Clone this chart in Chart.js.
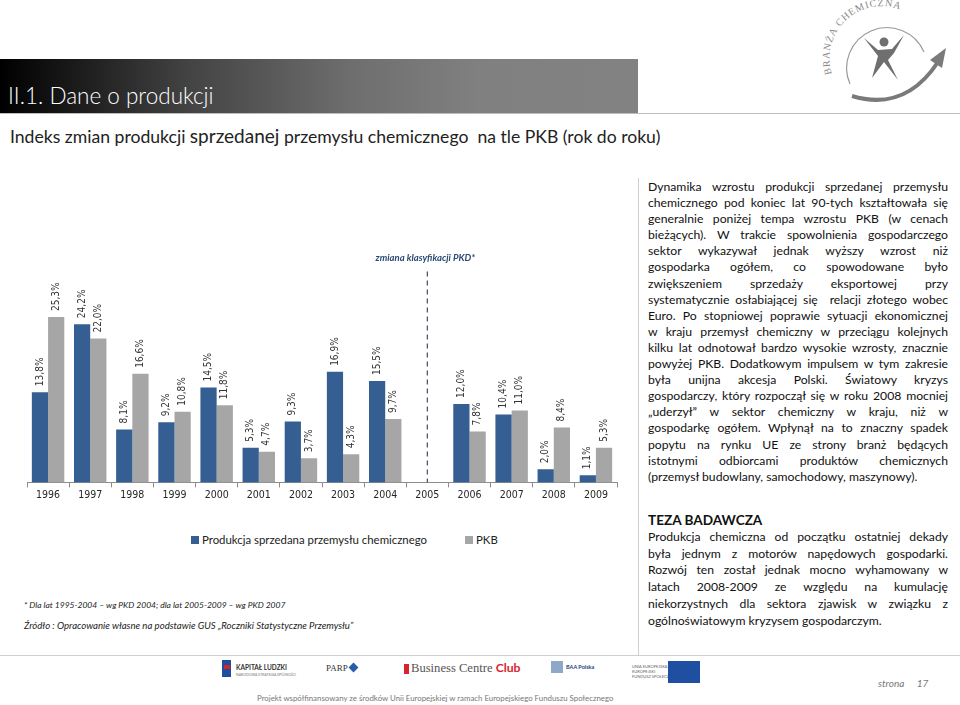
<!DOCTYPE html>
<html lang="pl">
<head>
<meta charset="utf-8">
<title>Indeks zmian produkcji</title>
<script src="https://cdn.jsdelivr.net/npm/chart.js@4.4.1/dist/chart.umd.min.js"></script>
<style>
  html, body { margin: 0; padding: 0; background: #fff; }
  body { width: 960px; height: 705px; position: relative; overflow: hidden; font-family: Lato, "Open Sans", sans-serif; color: #1a1a1a; }
  .abs { position: absolute; }
  #head { left: 0; top: 59px; width: 638px; height: 54px; background: linear-gradient(to right, #000 0%, #444 30%, #6e6e6e 55%, #808080 75%, #828282 100%); }
  #head span { position: absolute; left: 8px; top: 23px; color: #fff; font-size: 22.5px; font-weight: 300; }
  #headline { left: 0; top: 113px; width: 960px; height: 1px; background: #bdbdbd; }
  #subtitle { left: 10px; top: 124px; font-size: 17.6px; color: #222; white-space: nowrap; }
  #subtitle b { font-weight: normal; font-size: 19px; }
  #vline { left: 638px; top: 178px; width: 1px; height: 477px; background: #cfcfcf; }
  #footline { left: 0; top: 655px; width: 960px; height: 1px; background: #cfcfcf; }
  #chartbox { left: 0; top: 230px; width: 640px; height: 280px; }
  .txt { left: 648px; width: 300px; font-size: 12.2px; color: #111; }
  .txt div { text-align: justify; text-align-last: justify; height: 16.1px; line-height: 16.1px; }
  .txt div.last { text-align-last: left; }
  #teza div { height: 16.8px; line-height: 16.8px; }
  #legend { left: 191px; top: 533px; font-size: 11.4px; color: #222; white-space: nowrap; }
  #legend i { display: inline-block; width: 8px; height: 8px; margin-right: 3px; vertical-align: 0px; }
  .note { left: 24px; font-style: italic; white-space: nowrap; color: #222; }
  .foot { font-family: "Liberation Serif", serif; white-space: nowrap; }
</style>
</head>
<body>
<div id="head" class="abs"><span>II.1. Dane o produkcji</span></div>
<div id="headline" class="abs"></div>
<div id="subtitle" class="abs">Indeks zmian produkcji <b>sprzedanej</b> przemysłu chemicznego&nbsp; na tle PKB (rok do roku)</div>

<svg class="abs" style="left:800px;top:0" width="160" height="112" viewBox="800 0 160 112">
  <defs><path id="arc" d="M 832 74 A 52 52 0 0 1 912 16"/></defs>
  <text font-family="Liberation Serif, serif" font-size="10" fill="#8a8a8a" letter-spacing="0.9"><textPath href="#arc">BRANŻA CHEMICZNA</textPath></text>
  <path d="M 850 84 A 40 40 0 1 1 924 52" fill="none" stroke="#9a9a9a" stroke-width="1.2"/>
  <path d="M 852 96 Q 905 112 938 62" fill="none" stroke="#7a7a7a" stroke-width="4"/>
  <path d="M 930 60 L 946 48 L 942 68 Z" fill="#7a7a7a"/>
  <circle cx="884" cy="42" r="4.5" fill="#6f6f6f"/>
  <path d="M 864 38 L 878 50 L 892 49 L 904 35 L 894 53 L 888 60 L 898 80 L 884 62 L 872 78 L 878 56 Z" fill="#6f6f6f"/>
</svg>

<div id="vline" class="abs"></div>
<div id="footline" class="abs"></div>

<div id="chartbox" class="abs"><canvas id="myChart"></canvas></div>

<div id="legend" class="abs"><i style="background:#355F92"></i>Produkcja sprzedana przemysłu chemicznego<span style="display:inline-block;width:38px"></span><i style="background:#A6A6A6"></i>PKB</div>

<div class="abs note" style="top:600px;font-size:8.5px">* Dla lat 1995-2004 – wg PKD 2004; dla lat 2005-2009 – wg PKD 2007</div>
<div class="abs note" style="top:620px;font-size:9.6px">Źródło : Opracowanie własne na podstawie GUS „Roczniki Statystyczne Przemysłu”</div>

<div class="abs txt" style="top:179px">
  <div>Dynamika wzrostu produkcji sprzedanej przemysłu</div>
  <div>chemicznego pod koniec lat 90-tych kształtowała się</div>
  <div>generalnie poniżej tempa wzrostu PKB (w cenach</div>
  <div>bieżących). W trakcie spowolnienia gospodarczego</div>
  <div>sektor wykazywał jednak wyższy wzrost niż</div>
  <div>gospodarka ogółem, co spowodowane było</div>
  <div>zwiększeniem sprzedaży eksportowej przy</div>
  <div>systematycznie osłabiającej się&nbsp; relacji złotego wobec</div>
  <div>Euro. Po stopniowej poprawie sytuacji ekonomicznej</div>
  <div>w kraju przemysł chemiczny w przeciągu kolejnych</div>
  <div>kilku lat odnotował bardzo wysokie wzrosty, znacznie</div>
  <div>powyżej PKB. Dodatkowym impulsem w tym zakresie</div>
  <div>była unijna akcesja Polski. Światowy kryzys</div>
  <div>gospodarczy, który rozpoczął się w roku 2008 mocniej</div>
  <div>„uderzył” w sektor chemiczny w kraju, niż w</div>
  <div>gospodarkę ogółem. Wpłynął na to znaczny spadek</div>
  <div>popytu na rynku UE ze strony branż będących</div>
  <div>istotnymi odbiorcami produktów chemicznych</div>
  <div class="last">(przemysł budowlany, samochodowy, maszynowy).</div>
</div>

<div id="teza" class="abs txt" style="top:512px">
  <div class="last" style="font-weight:bold;font-size:13.6px">TEZA BADAWCZA</div>
  <div>Produkcja chemiczna od początku ostatniej dekady</div>
  <div>była jednym z motorów napędowych gospodarki.</div>
  <div>Rozwój ten został jednak mocno wyhamowany w</div>
  <div>latach 2008-2009 ze względu na kumulację</div>
  <div>niekorzystnych dla sektora zjawisk w związku z</div>
  <div class="last">ogólnoświatowym kryzysem gospodarczym.</div>
</div>

<!-- stopka z logotypami -->
<div class="abs" style="left:222px;top:660px;width:9px;height:17px;background:#1d4f9c"></div>
<div class="abs" style="left:224px;top:665px;width:6px;height:4px;background:#d8232a"></div>
<div class="abs foot" style="left:236px;top:664px;font-family:Lato;font-size:6.5px;font-weight:bold;color:#333">KAPITAŁ LUDZKI</div>
<div class="abs foot" style="left:236px;top:673px;font-family:Lato;font-size:3.5px;color:#777">NARODOWA STRATEGIA SPÓJNOŚCI</div>
<div class="abs foot" style="left:326px;top:663px;font-size:9px;color:#333">PARP</div>
<div class="abs" style="left:350px;top:664px;width:7px;height:7px;background:#2b5ca8;transform:rotate(45deg)"></div>
<div class="abs" style="left:404px;top:664px;width:5px;height:10px;background:#d9232e"></div>
<div class="abs foot" style="left:411px;top:660px;font-size:12.6px;color:#555">Business Centre <b style="font-family:Lato;color:#d9232e;font-size:12.2px">Club</b></div>
<div class="abs" style="left:551px;top:661px;width:12px;height:12px;background:#8fa7c9"></div>
<div class="abs foot" style="left:566px;top:664px;font-family:Lato;font-size:5.5px;font-weight:bold;color:#1d3f7a">BAA Polska</div>
<div class="abs foot" style="left:632px;top:664px;font-family:Lato;font-size:4px;color:#666;line-height:5px">UNIA EUROPEJSKA<br>EUROPEJSKI<br>FUNDUSZ SPOŁECZNY</div>
<div class="abs" style="left:668px;top:661px;width:32px;height:22px;background:#1f4fa0"></div>
<div class="abs" style="left:878px;top:677px;font-size:10px;font-style:italic;color:#777;white-space:nowrap">strona <span style="margin-left:10px">17</span></div>
<div class="abs" style="left:257px;top:693px;font-size:7.85px;color:#777;white-space:nowrap">Projekt współfinansowany ze środków Unii Europejskiej w ramach Europejskiego Funduszu Społecznego</div>

<script>
const years = ['1996', '1997', '1998', '1999', '2000', '2001', '2002', '2003', '2004', '2005', '2006', '2007', '2008', '2009'];
const produkcja = [13.8, 24.2, 8.1, 9.2, 14.5, 5.3, 9.3, 16.9, 15.5, null, 12.0, 10.4, 2.0, 1.1];
const pkb = [25.3, 22.0, 16.6, 10.8, 11.8, 4.7, 3.7, 4.3, 9.7, null, 7.8, 11.0, 8.4, 5.3];
const seriesNames = ['Produkcja sprzedana przemysłu chemicznego', 'PKB'];
const breakYear = '2005';
const breakNote = 'zmiana klasyfikacji PKD*';

// etykiety nad slupkami, obrocone o 90 stopni
const barLabels = {
  id: 'barLabels',
  afterDatasetsDraw(chart) {
    const ctx = chart.ctx;
    chart.data.datasets.forEach((ds, i) => {
      chart.getDatasetMeta(i).data.forEach((bar, j) => {
        const v = ds.data[j];
        if (v == null) return;
        ctx.save();
        ctx.translate(bar.x, bar.y - 6);
        ctx.rotate(-Math.PI / 2);
        ctx.font = '10px "DejaVu Sans Condensed", "DejaVu Sans", sans-serif';
        ctx.fillStyle = '#333';
        ctx.textAlign = 'left';
        ctx.textBaseline = 'middle';
        ctx.fillText(v.toFixed(1).replace('.', ',') + '%', 0, 0);
        ctx.restore();
      });
    });
  }
};

// przerywana linia - zmiana klasyfikacji
const breakLine = {
  id: 'breakLine',
  afterDatasetsDraw(chart) {
    const ctx = chart.ctx;
    const x = chart.scales.x.getPixelForValue(years.indexOf(breakYear));
    const bottom = chart.chartArea.bottom;
    const top = chart.chartArea.top + 18;
    ctx.save();
    ctx.strokeStyle = '#4d5a6b';
    ctx.lineWidth = 1.3;
    ctx.setLineDash([5, 4]);
    ctx.beginPath();
    ctx.moveTo(x, top);
    ctx.lineTo(x, bottom);
    ctx.stroke();
    ctx.setLineDash([]);
    ctx.font = 'italic bold 9.5px Lato, sans-serif';
    ctx.fillStyle = '#2b4a73';
    ctx.textAlign = 'center';
    ctx.textBaseline = 'middle';
    ctx.fillText(breakNote, x - 2, top - 14);
    ctx.restore();
  }
};

const ctx = document.getElementById('myChart').getContext('2d');
const myChart = new Chart(ctx, {
  type: 'bar',
  data: {
    labels: years,
    datasets: [{
      label: seriesNames[0],
      data: produkcja,
      backgroundColor: '#355F92',
      borderWidth: 0
    }, {
      label: seriesNames[1],
      data: pkb,
      backgroundColor: '#A6A6A6',
      borderWidth: 0
    }]
  },
  options: {
    responsive: true,
    maintainAspectRatio: false,
    animation: false,
    layout: { padding: { left: 27, right: 23, top: 23.5, bottom: 6 } },
    datasets: { bar: { categoryPercentage: 0.77, barPercentage: 1 } },
    plugins: { legend: { display: false }, tooltip: { enabled: false } },
    scales: {
      x: {
        grid: { display: true, drawOnChartArea: false, drawTicks: true, tickLength: 5, color: '#8c8c8c' },
        border: { color: '#8c8c8c' },
        ticks: { color: '#262626', padding: 2, font: { family: '"DejaVu Sans Condensed", "DejaVu Sans", sans-serif', size: 10.5 } }
      },
      y: { display: false, min: 0, max: 35 }
    }
  },
  plugins: [barLabels, breakLine]
});
</script>
</body>
</html>
